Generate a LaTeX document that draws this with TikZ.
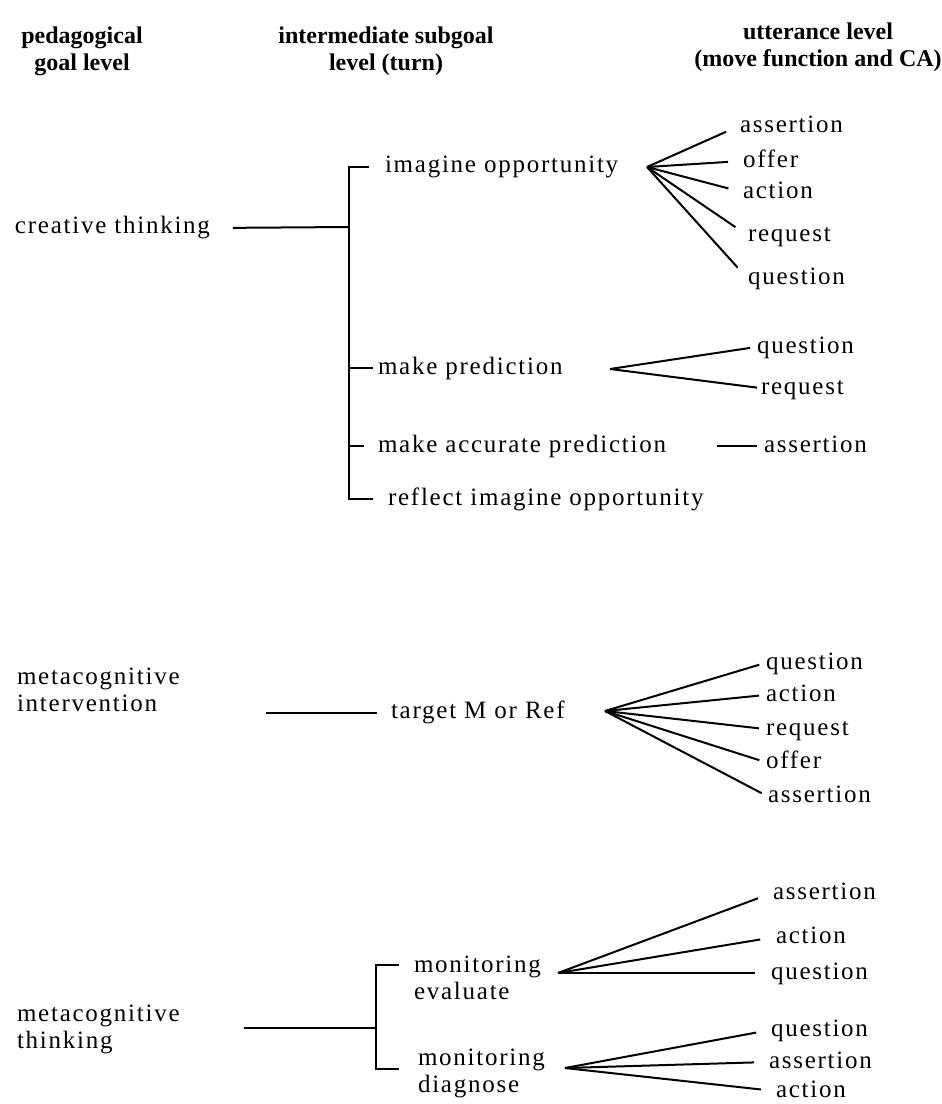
\documentclass[tikz,border=0pt]{standalone}
\usepackage{fontspec}
\setmainfont{Liberation Serif}
\newfontfamily\bodyfont{Liberation Serif}[LetterSpace=7]
\usetikzlibrary{positioning,calc}
\def\gap{14pt}
\tikzstyle{head}=[font=\fontsize{24}{27}\selectfont\bfseries,align=center,inner sep=0pt]
\tikzstyle{goal}=[font=\fontsize{25}{27}\selectfont\bodyfont,anchor=west,align=left,inner sep=0pt]
\tikzstyle{leaf}=[font=\fontsize{25}{27}\selectfont\bodyfont,anchor=west,inner sep=0pt,
  text height=17pt,text depth=5pt]
\newcommand{\newLeaf}[4]{\node[leaf](#1) at (#3,#4) {#2};}
\newcommand{\newTwig}[3]{\draw[shorten >=#3] (#1) -- (#2.west);}

\begin{document}
\begin{tikzpicture}[x=1pt,y=-1pt,line width=2pt]
  \useasboundingbox (0,0) rectangle (942,1104);
  % column heads
  \node[head] (hPed) at (82,51) {pedagogical\\goal level};
  \node[head] (hSub) at (386,51) {intermediate subgoal\\level (turn)};
  \node[head] (hUtt) at (818,47) {utterance level\\(move function and CA)};

  % creative thinking
  \node[goal] (ct) at (14,228) {creative thinking};
  \node[goal] (io) at (384,167) {imagine opportunity};
  \node[goal] (mp) at (377,368) {make prediction};
  \node[goal] (map) at (377,446) {make accurate prediction};
  \node[goal] (ri) at (387,499) {reflect imagine opportunity};
  \coordinate (bTop) at (349,164);
  \coordinate (bBot) at (349,499);
  \coordinate (ctB) at (349,227);
  \draw[shorten <=22pt] (ct.east) -- (ctB);
  \draw ([xshift=-15pt]io.west) -| (bBot) -- ([xshift=-14pt]ri.west);
  \draw (bTop |- mp.west) -- ([xshift=-4pt]mp.west);
  \draw (bTop |- map.west) -- ([xshift=-13pt]map.west);

  \coordinate (ioR) at (647,167);
  \newLeaf{io1}{assertion}{739}{126}
  \newLeaf{io2}{offer}{742}{161}
  \newLeaf{io3}{action}{742}{192}
  \newLeaf{io4}{request}{747}{235}
  \newLeaf{io5}{question}{747}{278}
  \foreach \i in {1,...,5}{\newTwig{ioR}{io\i}{\gap}}

  \coordinate (mpR) at (610,369);
  \newLeaf{mp1}{question}{756}{347}
  \newLeaf{mp2}{request}{760}{388}
  \newTwig{mpR}{mp1}{6pt}
  \newTwig{mpR}{mp2}{3pt}

  \coordinate (mapR) at (717,446);
  \newLeaf{map1}{assertion}{763}{446}
  \newTwig{mapR}{map1}{6pt}

  % metacognitive intervention
  \node[goal] (mi) at (16,690) {metacognitive\\intervention};
  \node[goal] (tm) at (390,712) {target M or Ref};
  \coordinate (miE) at (266,713);
  \draw (miE) -- ([xshift=-13pt]tm.west |- miE);

  \coordinate (tmR) at (605,711);
  \newLeaf{tm1}{question}{765}{663}
  \newLeaf{tm2}{action}{765}{695}
  \newLeaf{tm3}{request}{765}{729}
  \newLeaf{tm4}{offer}{765}{762}
  \newLeaf{tm5}{assertion}{767}{796}
  \foreach \i in {1,...,5}{\newTwig{tmR}{tm\i}{6pt}}

  % metacognitive thinking
  \node[goal] (mt) at (16,1029) {metacognitive\\thinking};
  \node[goal] (me) at (413,978) {monitoring\\evaluate};
  \node[goal] (md) at (417,1073) {monitoring\\diagnose};
  \coordinate (cTop) at (376,965);
  \coordinate (cBot) at (376,1069);
  \coordinate (mtE) at (244,1028);
  \draw (mtE) -- (cTop |- mtE);
  \draw ([xshift=-14pt]cTop -| me.west) -- (cTop) -- (cBot) -- ([xshift=-18pt]cBot -| md.west);

  \coordinate (meR) at (558,973);
  \newLeaf{me1}{assertion}{772}{893}
  \newLeaf{me2}{action}{775}{937}
  \newLeaf{me3}{question}{770}{973}
  \foreach \i in {1,2,3}{\newTwig{meR}{me\i}{15pt}}

  \coordinate (mdR) at (565,1068);
  \newLeaf{md1}{question}{770}{1030}
  \newLeaf{md2}{assertion}{768}{1062}
  \newLeaf{md3}{action}{775}{1091}
  \foreach \i in {1,2,3}{\newTwig{mdR}{md\i}{14pt}}
\end{tikzpicture}
\end{document}
